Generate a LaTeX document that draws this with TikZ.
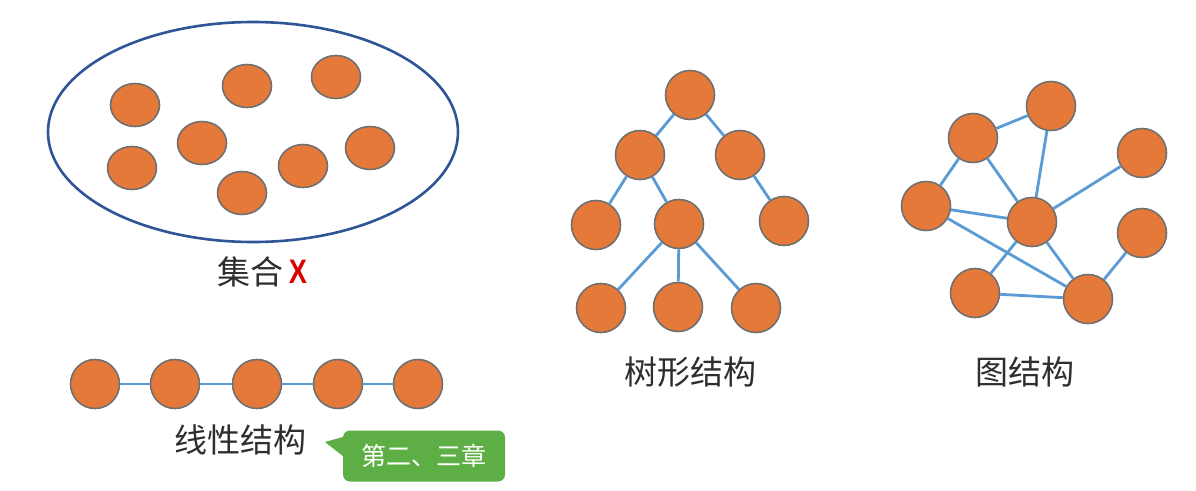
\documentclass[tikz,border=0pt]{standalone}
\usepackage{fontspec}
\newfontfamily\cjk{Noto Sans CJK SC}
\newfontfamily\crossfont{Liberation Sans}
\usetikzlibrary{shapes.geometric}
\definecolor{dot}{HTML}{E5793A}
\definecolor{dotrim}{HTML}{707070}
\definecolor{link}{HTML}{5B9BD5}
\definecolor{setline}{HTML}{2F5597}
\definecolor{tagbg}{HTML}{5DAF45}
\definecolor{labeltext}{HTML}{2E2E2E}
\tikzset{
  dotnode/.style={circle, fill=dot, draw=dotrim, line width=1.6pt, minimum size=49pt, inner sep=0pt},
  setdot/.style={ellipse, fill=dot, draw=dotrim, line width=1.6pt, minimum width=49pt, minimum height=43pt, inner sep=0pt},
  edge/.style={draw=link, line width=2.8pt},
  caption/.style={font=\cjk\fontsize{33}{36}\selectfont, text=labeltext, inner sep=0pt}
}
\begin{document}
\begin{tikzpicture}[x=1pt,y=-1pt]
\useasboundingbox (0,0) rectangle (1196,490);
\fill[white] (0,0) rectangle (1196,490);

% set: loose elements inside an ellipse
\draw[setline, line width=2.6pt] (253,132) ellipse [x radius=205, y radius=110];
\node[setdot] (s1) at (135,105) {};
\node[setdot] (s2) at (247,86) {};
\node[setdot] (s3) at (336,77) {};
\node[setdot] (s4) at (202,143) {};
\node[setdot] (s5) at (132,168) {};
\node[setdot] (s6) at (242,193) {};
\node[setdot] (s7) at (303,166) {};
\node[setdot] (s8) at (370,148) {};
\node[caption] (setlbl) at (250,272) {集合};
\node[font=\crossfont\bfseries\fontsize{34}{36}\selectfont, text=red!85!black, inner sep=0pt, xscale=0.8] (cross) at (298,272) {X};

% linear structure
\foreach \i/\x in {1/95,2/175,3/257,4/338,5/418}{
  \node[dotnode] (l\i) at (\x,384) {};
}
\draw[edge] (l1) -- (l2);
\draw[edge] (l2) -- (l3);
\draw[edge] (l3) -- (l4);
\draw[edge] (l4) -- (l5);
\node[caption] (linlbl) at (240,440) {线性结构};

% chapter tag
\node[fill=tagbg, rounded corners=7pt, minimum width=162pt, minimum height=51pt, inner sep=0pt,
      text=white, font=\cjk\fontsize{25}{28}\selectfont] (tag) at (424,456) {第二、三章};
\coordinate (tagtip) at (325,442);
\fill[tagbg] (tagtip) -- (tag.west |- 0,437) -- (tag.west |- 0,456) -- cycle;

% tree structure
\node[dotnode] (t0) at (690,95) {};
\node[dotnode] (t1) at (640,155) {};
\node[dotnode] (t2) at (740,155) {};
\node[dotnode] (t3) at (596,225) {};
\node[dotnode] (t4) at (679,224) {};
\node[dotnode] (t5) at (784,221) {};
\node[dotnode] (t6) at (601,308) {};
\node[dotnode] (t7) at (678,307) {};
\node[dotnode] (t8) at (756,308) {};
\draw[edge] (t0) -- (t1);
\draw[edge] (t0) -- (t2);
\draw[edge] (t1) -- (t3);
\draw[edge] (t1) -- (t4);
\draw[edge] (t2) -- (t5);
\draw[edge] (t4) -- (t6);
\draw[edge] (t4) -- (t7);
\draw[edge] (t4) -- (t8);
\node[caption] (treelbl) at (690,372) {树形结构};

% graph structure
\node[dotnode] (ga) at (973,138) {};
\node[dotnode] (gb) at (1051,106) {};
\node[dotnode] (gc) at (1142,153) {};
\node[dotnode] (gd) at (926,206) {};
\node[dotnode] (ge) at (1032,222) {};
\node[dotnode] (gf) at (1142,233) {};
\node[dotnode] (gg) at (975,293) {};
\node[dotnode] (gh) at (1088,299) {};
\draw[edge] (ga) -- (gb);
\draw[edge] (ga) -- (gd);
\draw[edge] (ga) -- (ge);
\draw[edge] (gb) -- (ge);
\draw[edge] (gc) -- (ge);
\draw[edge] (gd) -- (ge);
\draw[edge] (gd) -- (gh);
\draw[edge] (ge) -- (gg);
\draw[edge] (ge) -- (gh);
\draw[edge] (gf) -- (gh);
\draw[edge] (gg) -- (gh);
\node[caption] (graphlbl) at (1025,372) {图结构};
\end{tikzpicture}
\end{document}
